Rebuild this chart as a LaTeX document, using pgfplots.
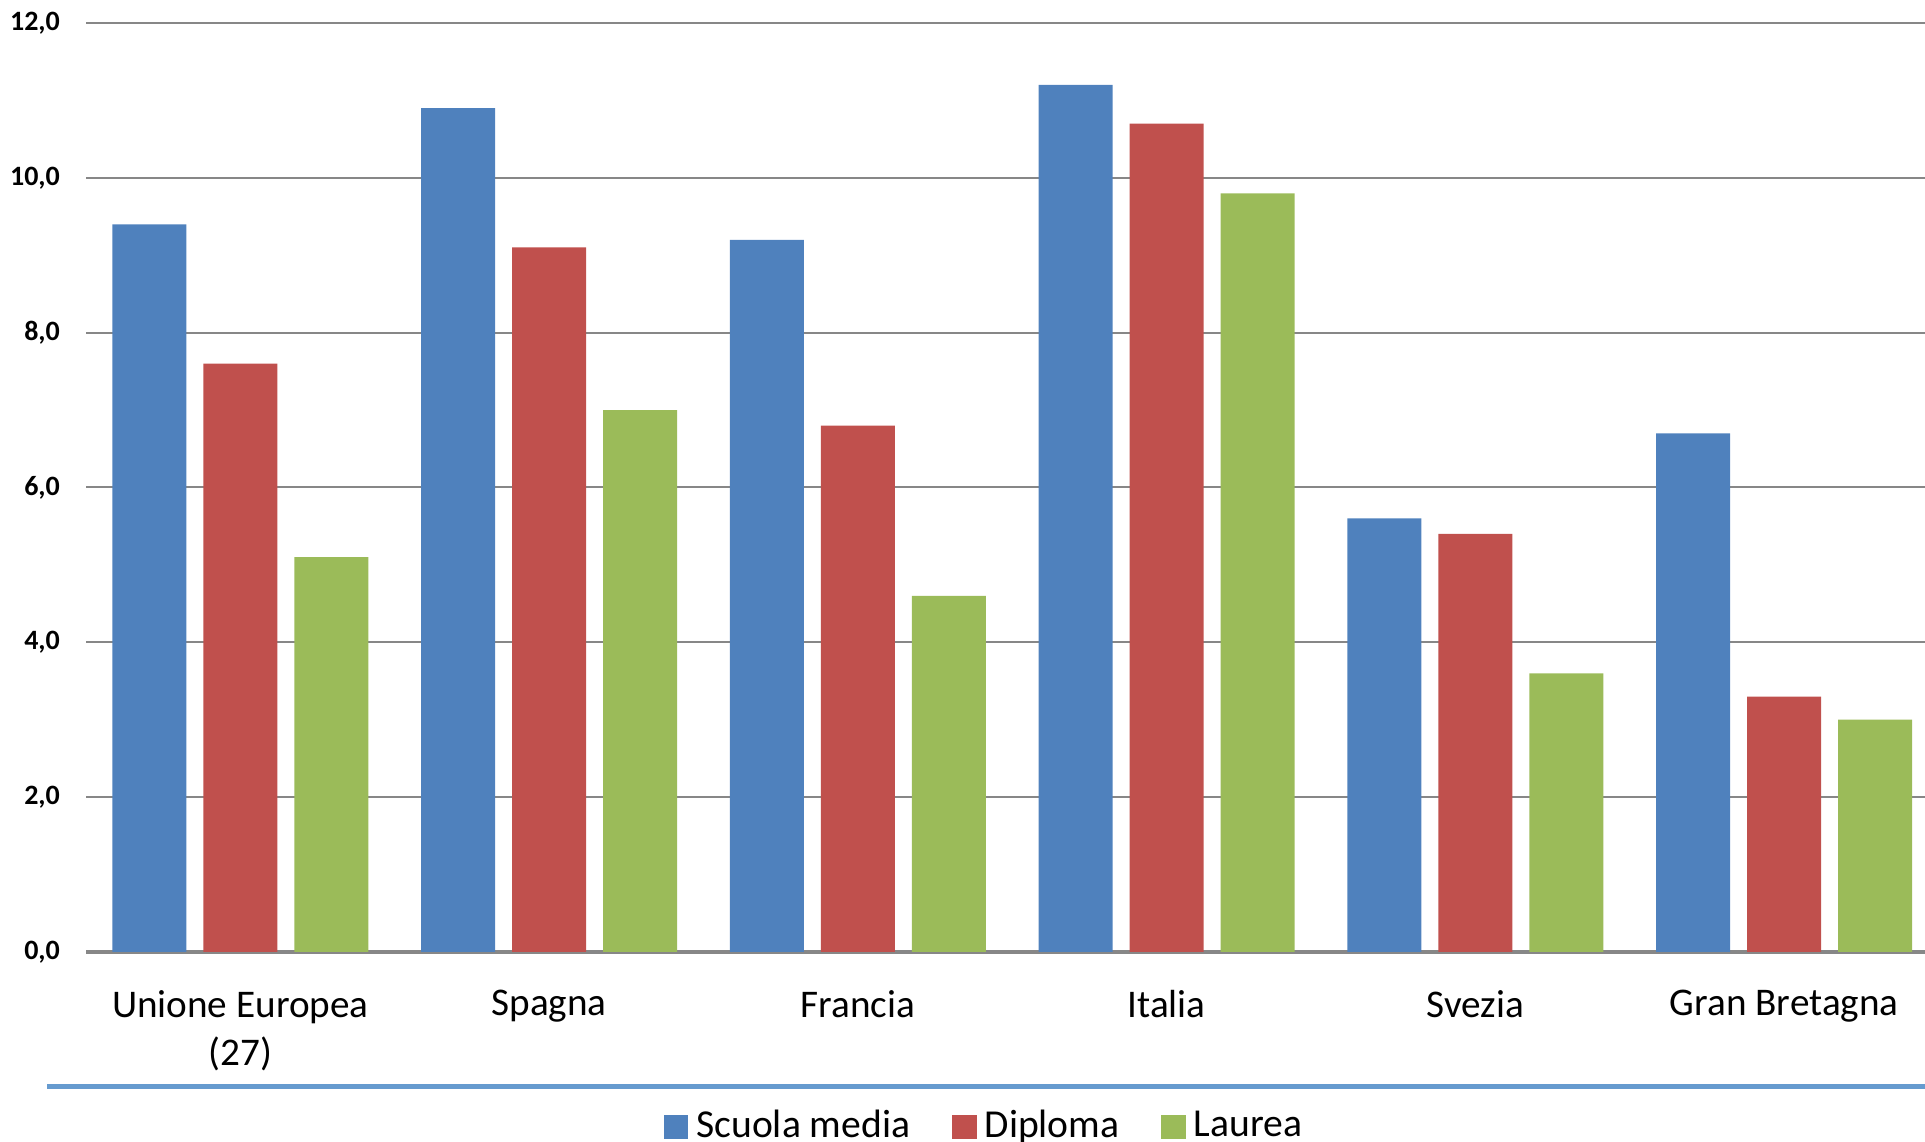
\documentclass[border=0pt]{standalone}
\usepackage{fontspec}
\setmainfont{Carlito}
\usepackage{pgfplots}
\pgfplotsset{compat=1.18}
\definecolor{cblue}{HTML}{4F81BD}
\definecolor{cred}{HTML}{C0504D}
\definecolor{cgreen}{HTML}{9BBB59}
\definecolor{gridgray}{HTML}{878787}
\definecolor{lineblue}{RGB}{102,155,207}
\begin{document}
\begin{tikzpicture}
\useasboundingbox (-21.5pt,-47.5pt) rectangle (459.75pt,238pt);
\begin{axis}[
  at={(0,0)}, anchor=south west,
  scale only axis, width=459.75pt, height=232.25pt,
  ybar=4.25pt, bar width=18.5pt,
  xmin=-0.5, xmax=5.456, ymin=0, ymax=12,
  enlargelimits=false, clip=false,
  xtick={0,1,2,3,4,5},
  xticklabels={{Unione Europea\\(27)},Spagna,Francia,Italia,Svezia,{Gran Bretagna}},
  xticklabel style={align=center, font=\fontsize{9.8}{12}\selectfont, yshift=-6pt},
  ytick={0,2,4,6,8,10,12},
  yticklabel style={font=\fontsize{7}{8}\selectfont\bfseries, xshift=-3pt,
    /pgf/number format/.cd, fixed, fixed zerofill, precision=1, use comma},
  /pgf/number format/assume math mode=true,
  ymajorgrids, grid style={draw=gridgray, line width=0.5pt},
  separate axis lines,
  axis x line*=bottom, axis y line*=left,
  x axis line style={draw=gridgray, line width=0.8pt, -},
  y axis line style={draw=none},
  major tick length=0pt, tick style={draw=none},
  legend style={at={(0.49,0)}, anchor=center, yshift=-43.75pt, draw=none,
    legend columns=3, font=\fontsize{9.9}{12}\selectfont,
    /tikz/every even column/.append style={column sep=8.5pt}},
  legend image code/.code={\fill[#1] (-0.8pt,-3.05pt) rectangle (5.3pt,3.05pt);},
]
\addplot[fill=cblue, draw=none] coordinates {(0,9.4) (1,10.9) (2,9.2) (3,11.2) (4,5.6) (5,6.7)};
\addplot[fill=cred, draw=none] coordinates {(0,7.6) (1,9.1) (2,6.8) (3,10.7) (4,5.4) (5,3.3)};
\addplot[fill=cgreen, draw=none] coordinates {(0,5.1) (1,7.0) (2,4.6) (3,9.8) (4,3.6) (5,3.0)};
\legend{Scuola media, Diploma, Laurea}
\end{axis}
\draw[color=lineblue, line width=1.25pt] (-9.75pt,-33.75pt) -- (459.75pt,-33.75pt);
\end{tikzpicture}
\end{document}
